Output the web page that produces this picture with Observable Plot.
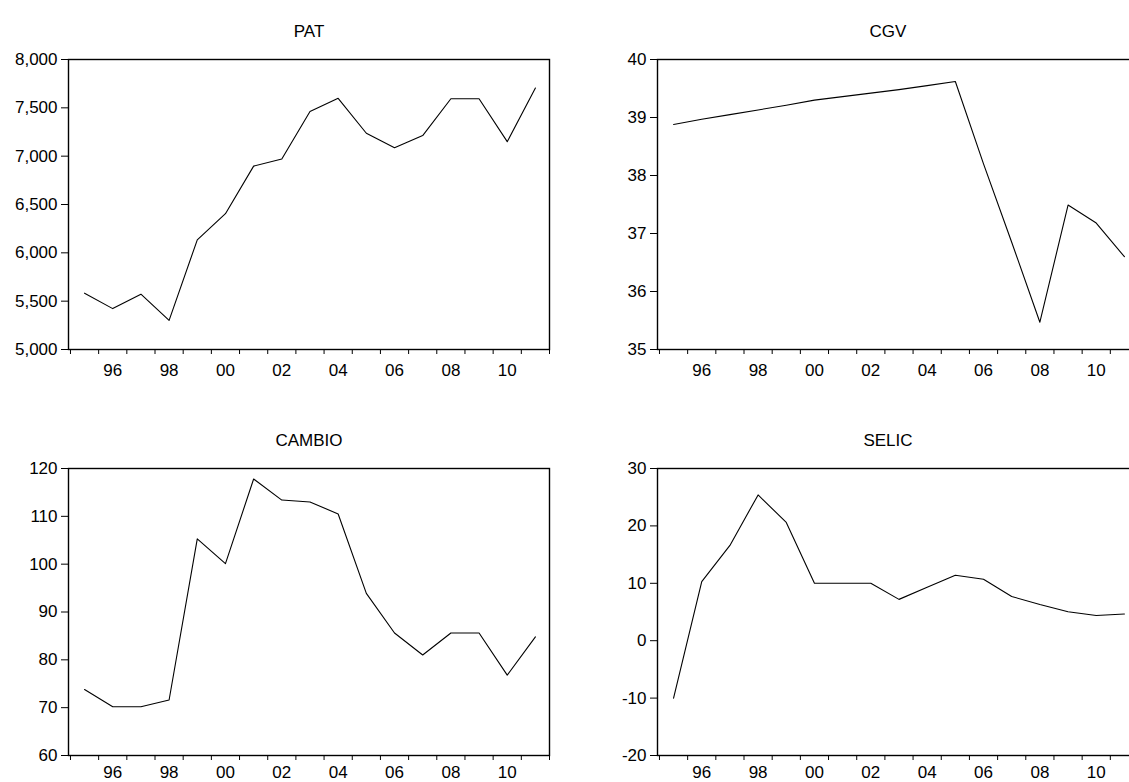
<!DOCTYPE html>
<html>
<head>
<meta charset="utf-8">
<script src="https://cdn.jsdelivr.net/npm/d3@7"></script>
<script src="https://cdn.jsdelivr.net/npm/@observablehq/plot@0.6"></script>
<style>
  html, body { margin: 0; padding: 0; background: #fff; }
  #page { position: relative; width: 1129px; height: 782px; overflow: hidden; background: #fff; }
  .panel { position: absolute; width: 560px; }
  .panel svg { max-width: none !important; }
</style>
</head>
<body>
<div id="page"></div>
<script>
// Annual observations, 1995–2011
const years = [1995, 1996, 1997, 1998, 1999, 2000, 2001, 2002, 2003, 2004, 2005, 2006, 2007, 2008, 2009, 2010, 2011];

const pat = [5583, 5423, 5572, 5302, 6134, 6405, 6897, 6970, 7463, 7598, 7237, 7088, 7213, 7594, 7594, 7150, 7705];
const cgv = [38.88, 38.97, 39.05, 39.13, 39.21, 39.30, 39.36, 39.42, 39.48, 39.55, 39.62, 38.20, 36.85, 35.47, 37.49, 37.18, 36.60];
const cambio = [73.8, 70.2, 70.2, 71.6, 105.3, 100.1, 117.8, 113.4, 113.0, 110.5, 93.9, 85.6, 81.0, 85.6, 85.6, 76.8, 84.8];
const selic = [-10.0, 10.3, 16.6, 25.4, 20.6, 10.0, 10.0, 10.0, 7.2, 9.3, 11.4, 10.7, 7.7, 6.3, 5.05, 4.4, 4.65];

// Axis settings per series
const patTicks = [5000, 5500, 6000, 6500, 7000, 7500, 8000];
const cgvTicks = [35, 36, 37, 38, 39, 40];
const cambioTicks = [60, 70, 80, 90, 100, 110, 120];
const selicTicks = [-20, -10, 0, 10, 20, 30];
const labelYears = [1996, 1998, 2000, 2002, 2004, 2006, 2008, 2010];

const font = "'Liberation Sans', Arial, Helvetica, sans-serif";

function panel({title, values, ticks, format, frameHeight, labelPadding = 14, titleDx = 0}) {
  const data = years.map((year, i) => ({year, value: values[i]}));
  // tick marks sit on the boundaries between years
  const boundaries = years.map((y) => y - 0.5).concat([years[years.length - 1] + 0.5]);
  const marginTop = 59, marginBottom = 35;
  return Plot.plot({
    width: 560,
    height: marginTop + frameHeight + marginBottom,
    marginLeft: 68,
    marginRight: 11,
    marginTop,
    marginBottom,
    style: {fontFamily: font, fontSize: "17px", color: "#000", background: "#fff", overflow: "visible"},
    x: {domain: [1994.43, 2011.5]},
    y: {domain: [ticks[0], ticks[ticks.length - 1]]},
    marks: [
      Plot.axisY({ticks, tickSize: 7, tickPadding: 4, tickFormat: format, label: null, fontSize: 17}),
      Plot.axisX({ticks: boundaries, tickSize: 5, tickFormat: () => "", label: null}),
      Plot.axisX({
        ticks: labelYears,
        tickSize: 0,
        tickPadding: labelPadding,
        label: null,
        fontSize: 17,
        tickFormat: (d) => String(d % 100).padStart(2, "0")
      }),
      Plot.line(data, {x: "year", y: "value", stroke: "#000", strokeWidth: 1.1}),
      Plot.frame({stroke: "#000", strokeWidth: 1.4}),
      Plot.text([title], {frameAnchor: "top", dy: -35, dx: titleDx, fontSize: 17, fill: "#000"})
    ]
  });
}

const plain = (d) => (d < 0 ? "-" + Math.abs(d) : String(d));
const thousands = (d) => d.toLocaleString("en-US");

const panels = [
  {left: 0, top: 0, opts: {title: "PAT", values: pat, ticks: patTicks, format: thousands, frameHeight: 290}},
  {left: 589, top: 0, opts: {title: "CGV", values: cgv, ticks: cgvTicks, format: plain, frameHeight: 290, titleDx: -10}},
  {left: 0, top: 409, opts: {title: "CAMBIO", values: cambio, ticks: cambioTicks, format: plain, frameHeight: 287, labelPadding: 10}},
  {left: 589, top: 409, opts: {title: "SELIC", values: selic, ticks: selicTicks, format: plain, frameHeight: 287, labelPadding: 10, titleDx: -10}}
];

const page = document.getElementById("page");
for (const p of panels) {
  const div = document.createElement("div");
  div.className = "panel";
  div.style.left = p.left + "px";
  div.style.top = p.top + "px";
  div.appendChild(panel(p.opts));
  page.appendChild(div);
}
</script>
</body>
</html>
